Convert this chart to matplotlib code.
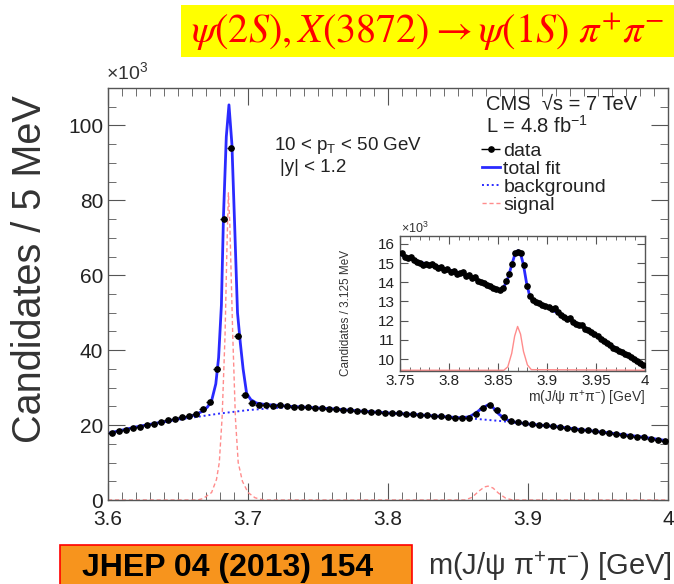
import matplotlib
matplotlib.use("Agg")
import matplotlib.pyplot as plt
from matplotlib.patches import Rectangle
from matplotlib.ticker import MultipleLocator, FormatStrFormatter
import numpy as np

# ROOT-like sans fonts, the slide title uses its own math font
plt.rcParams['font.family'] = ['Liberation Sans', 'DejaVu Sans']
plt.rcParams['mathtext.fontset'] = 'custom'
plt.rcParams['mathtext.rm'] = 'Liberation Sans'
plt.rcParams['mathtext.it'] = 'Liberation Sans:italic'
plt.rcParams['mathtext.bf'] = 'Liberation Sans:bold'

# main histogram: 5 MeV bins from 3.6 GeV, candidates in units of 10^3
main_lo = 3.6
main_bin = 0.005
main_counts = [
    17.9, 18.3, 18.7, 19.2, 19.5, 20.0, 20.4, 20.8, 21.3, 21.6,
    22.1, 22.5, 23.0, 24.3, 26.1, 35.0, 75.0, 94.0, 43.8, 28.0,
    26.0, 25.4, 25.4, 25.1, 25.3, 25.1, 24.9, 24.9, 24.7, 24.6,
    24.5, 24.3, 24.3, 24.1, 23.9, 23.8, 23.7, 23.5, 23.4, 23.3,
    23.2, 23.1, 22.9, 22.9, 22.7, 22.6, 22.5, 22.3, 22.2, 22.0,
    21.9, 22.0, 22.9, 24.5, 25.4, 24.0, 22.2, 21.1, 20.7, 20.5,
    20.3, 20.1, 19.9, 19.7, 19.4, 19.2, 19.0, 18.8, 18.6, 18.3,
    18.2, 17.9, 17.7, 17.4, 17.2, 16.9, 16.7, 16.4, 16.1, 15.8,
]

# fit curves (mass in GeV, 10^3 candidates / 5 MeV)
total_m = [3.600, 3.620, 3.640, 3.655, 3.662, 3.667, 3.671, 3.674, 3.677, 3.679,
           3.681, 3.6825, 3.6845, 3.6864, 3.6885, 3.6905, 3.6925, 3.6945, 3.6965, 3.699,
           3.702, 3.706, 3.712, 3.720, 3.730, 3.740, 3.760, 3.780, 3.800, 3.820,
           3.840, 3.852, 3.858, 3.863, 3.867, 3.8715, 3.875, 3.879, 3.883, 3.887,
           3.892, 3.900, 3.920, 3.940, 3.960, 3.980, 4.000]
total_y = [17.8, 19.5, 20.9, 22.0, 22.7, 23.6, 24.8, 26.5, 31.0, 38.0,
           52.0, 76.0, 97.0, 105.5, 95.0, 73.0, 50.0, 42.0, 35.0, 28.5,
           26.8, 25.9, 25.5, 25.3, 25.0, 24.8, 24.35, 23.75, 23.25, 22.8,
           22.25, 21.95, 22.2, 23.3, 24.5, 25.4, 24.7, 23.0, 21.8, 21.1,
           20.7, 20.3, 19.6, 18.7, 17.8, 16.9, 15.8]
bkg_m = [3.60, 3.62, 3.64, 3.66, 3.68, 3.70, 3.72, 3.74, 3.76, 3.78, 3.80,
         3.82, 3.84, 3.86, 3.88, 3.90, 3.92, 3.94, 3.96, 3.98, 4.00]
bkg_y = [17.8, 19.4, 20.8, 22.0, 23.1, 24.0, 24.6, 24.8, 24.35, 23.75, 23.25,
         22.8, 22.25, 21.75, 21.1, 20.3, 19.6, 18.7, 17.8, 16.9, 15.8]
sig_m = [3.600, 3.664, 3.668, 3.674, 3.6775, 3.6795, 3.6815, 3.6836, 3.685, 3.686,
         3.687, 3.6891, 3.691, 3.693, 3.696, 3.700, 3.705, 3.711, 3.855, 3.860,
         3.865, 3.869, 3.8715, 3.875, 3.879, 3.884, 3.889, 4.000]
sig_y = [0.0, 0.0, 0.4, 2.0, 5.5, 10.0, 22.0, 44.0, 68.0, 82.0,
         74.0, 44.0, 22.0, 10.0, 5.0, 2.0, 0.6, 0.0, 0.0, 0.7,
         2.4, 3.5, 3.7, 3.2, 1.8, 0.5, 0.0, 0.0]

# inset: 3.125 MeV bins from 3.75 GeV
ins_lo = 3.75
ins_bin = 0.003125
ins_counts = [
    15.5, 15.3, 15.25, 15.3, 15.15, 15.05, 15.0, 14.9, 14.95, 14.9,
    14.95, 14.85, 14.75, 14.8, 14.65, 14.7, 14.55, 14.6, 14.45, 14.5,
    14.55, 14.35, 14.4, 14.2, 14.25, 14.05, 14.0, 13.95, 13.85, 13.8,
    13.7, 13.65, 13.6, 13.7, 14.05, 14.45, 14.95, 15.55, 15.6, 15.5,
    14.9, 13.8, 13.3, 13.1, 12.95, 12.9, 12.8, 12.75, 12.7, 12.6,
    12.65, 12.45, 12.3, 12.2, 12.1, 12.15, 11.95, 11.85, 11.75, 11.8,
    11.55, 11.5, 11.4, 11.3, 11.2, 11.05, 10.95, 10.85, 10.75, 10.6,
    10.55, 10.4, 10.35, 10.25, 10.2, 10.1, 10.0, 9.9, 9.8, 9.7,
]
ins_fit_m = [3.750, 3.770, 3.790, 3.810, 3.830, 3.845, 3.852, 3.856, 3.860, 3.864,
             3.8675, 3.8705, 3.873, 3.876, 3.879, 3.882, 3.886, 3.890, 3.900, 3.920,
             3.940, 3.960, 3.980, 4.000]
ins_fit_y = [15.45, 15.05, 14.8, 14.5, 14.1, 13.75, 13.6, 13.75, 14.2, 14.9,
             15.5, 15.65, 15.5, 14.9, 14.0, 13.35, 13.05, 12.9, 12.7, 12.15,
             11.6, 10.9, 10.25, 9.65]
ins_sig_m = [3.750, 3.856, 3.860, 3.864, 3.867, 3.870, 3.873, 3.876, 3.880, 3.884, 4.000]
ins_sig_y = [9.42, 9.42, 9.6, 10.3, 11.2, 11.7, 11.3, 10.4, 9.7, 9.45, 9.42]

main_x = main_lo + main_bin * (np.arange(len(main_counts)) + 0.5)
ins_x = ins_lo + ins_bin * (np.arange(len(ins_counts)) + 0.5)

W, H = 674, 584
fig = plt.figure(figsize=(W / 100, H / 100), dpi=100)


def fx(px):
    return px / W


def fy(py):
    return 1 - py / H


blue = '#2a2aff'
pink = '#ff8c8c'
frame = '#555555'


def root_axes(ax, size, major, minor):
    ax.tick_params(which='both', direction='in', top=True, right=True,
                   colors=frame, labelcolor='#222222', labelsize=size)
    ax.tick_params(which='major', length=major)
    ax.tick_params(which='minor', length=minor)
    for s in ax.spines.values():
        s.set_color(frame)
        s.set_linewidth(1.0)


# ---- main plot
ax = fig.add_axes([fx(108), fy(500), fx(560), fy(88) - fy(500)])
ax.plot(bkg_m, bkg_y, color=blue, lw=1.4, ls=(0, (1, 1.5)), label='background')
ax.plot(sig_m, sig_y, color=pink, lw=1.0, ls=(0, (3, 2)), label='signal')
ax.plot(total_m, total_y, color=blue, lw=2.0, label='total fit')
ax.errorbar(main_x, main_counts, xerr=main_bin / 2, fmt='o', ms=3.8,
            color='black', elinewidth=1.0, capsize=0, label='data', zorder=5)
ax.set_xlim(3.6, 4.0)
ax.set_ylim(0, 110)
ax.xaxis.set_major_locator(MultipleLocator(0.1))
ax.xaxis.set_minor_locator(MultipleLocator(0.01))
ax.yaxis.set_major_locator(MultipleLocator(20))
ax.yaxis.set_minor_locator(MultipleLocator(5))
ax.xaxis.set_major_formatter(FormatStrFormatter('%g'))
root_axes(ax, 15, 12, 6)
ax.tick_params(axis='x', pad=7)

fig.text(fx(106), fy(72), r'$\times$10$^{3}$', fontsize=14, color='#333333',
         ha='left', va='center')
fig.text(fx(30), fy(95), 'Candidates / 5 MeV', rotation=90, fontsize=28.5,
         color='#333333', ha='center', va='top')
fig.text(fx(672), fy(566), r'm(J/$\mathrm{\psi}$ $\mathrm{\pi^{+}\pi^{-}}$) [GeV]',
         fontsize=21, color='#333333', ha='right', va='center')

fig.text(fx(274), fy(145), r'10 < p$_{\mathrm{T}}$ < 50 GeV', fontsize=13.5,
         color='#222222', ha='left', va='center')
fig.text(fx(280), fy(167), '|y| < 1.2', fontsize=13.5, color='#222222',
         ha='left', va='center')
fig.text(fx(486), fy(105), 'CMS  \u221as = 7 TeV', fontsize=14.5,
         color='#222222', ha='left', va='center')
fig.text(fx(486), fy(126), r'L = 4.8 fb$^{\mathrm{-1}}$', fontsize=14.5,
         color='#222222', ha='left', va='center')

handles, labels = ax.get_legend_handles_labels()
order = ['data', 'total fit', 'background', 'signal']
hmap = dict(zip(labels, handles))
ax.legend([hmap[k] for k in order], order, loc='upper left',
          bbox_to_anchor=(fx(482), fy(142)), bbox_transform=fig.transFigure,
          frameon=False, fontsize=14, handlelength=0.9, handletextpad=0.2,
          labelspacing=0.02, borderpad=0, borderaxespad=0, labelcolor='#222222')

# ---- inset
axi = fig.add_axes([fx(400), fy(371), fx(245), fy(236) - fy(371)])
axi.plot(ins_sig_m, ins_sig_y, color=pink, lw=1.0)
axi.plot(ins_fit_m, ins_fit_y, color=blue, lw=2.0)
axi.errorbar(ins_x, ins_counts, xerr=ins_bin / 2, fmt='o', ms=3.8, color='black',
             elinewidth=1.0, capsize=0, zorder=5)
axi.set_xlim(3.75, 4.0)
axi.set_ylim(9.38, 16.41)
axi.xaxis.set_major_locator(MultipleLocator(0.05))
axi.xaxis.set_minor_locator(MultipleLocator(0.01))
axi.yaxis.set_major_locator(MultipleLocator(1))
axi.xaxis.set_major_formatter(FormatStrFormatter('%g'))
root_axes(axi, 11, 6, 3)
axi.tick_params(axis='x', pad=2)
fig.text(fx(401), fy(228), r'$\times$10$^{3}$', fontsize=9, color='#333333',
         ha='left', va='center')
fig.text(fx(346), fy(376), 'Candidates / 3.125 MeV', rotation=90, fontsize=8.5,
         color='#333333', ha='center', va='bottom')
fig.text(fx(645), fy(399), r'm(J/$\mathrm{\psi}$ $\mathrm{\pi^{+}\pi^{-}}$) [GeV]',
         fontsize=10, color='#333333', ha='right', va='center')

# ---- slide decorations: yellow title box and orange reference box
fig.patches.append(Rectangle((fx(181), fy(57)), fx(493), fy(5) - fy(57),
                             transform=fig.transFigure, facecolor='#ffff00',
                             edgecolor='none', zorder=0))
fig.text(fx(191), fy(32), r'$\psi(2S), X(3872) \rightarrow \psi(1S)\ \pi^{+}\pi^{-}$',
         fontsize=29, color='#ff0000', ha='left', va='center', math_fontfamily='stix')
fig.patches.append(Rectangle((fx(60), fy(600)), fx(352), fy(545) - fy(600),
                             transform=fig.transFigure, facecolor='#f7941d',
                             edgecolor='#ff0000', lw=1.2, zorder=0))
fig.text(fx(82), fy(568), 'JHEP 04 (2013) 154', fontsize=23, fontweight='bold',
         family=['Liberation Sans Narrow', 'Liberation Sans', 'DejaVu Sans'],
         color='black', ha='left', va='center')

fig.savefig('out.png', dpi=100)
